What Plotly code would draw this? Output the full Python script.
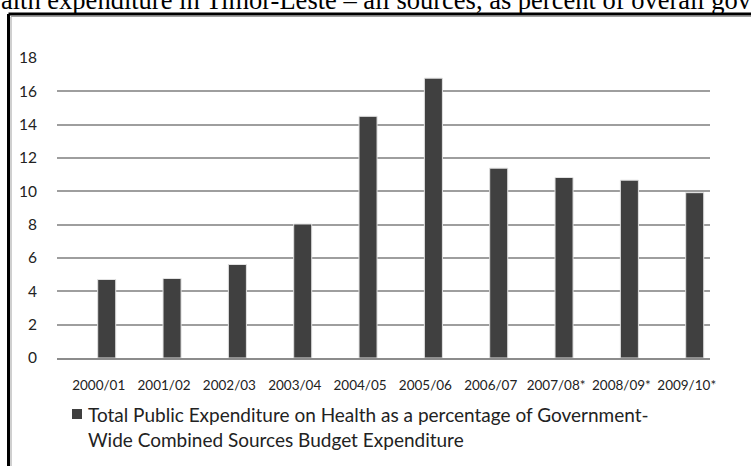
import plotly.graph_objects as go

categories = ["2000/01", "2001/02", "2002/03", "2003/04", "2004/05", "2005/06",
              "2006/07", "2007/08*", "2008/09*", "2009/10*"]
values = [4.71, 4.77, 5.61, 8.04, 14.50, 16.79, 11.39, 10.83, 10.67, 9.92]
y_ticks = [0, 2, 4, 6, 8, 10, 12, 14, 16, 18]
series_name = "Total Public Expenditure on Health as a percentage of Government-<br>Wide Combined Sources Budget Expenditure"
header_text = "alth expenditure in Timor-Leste \u2013 all sources, as percent of overall gov"

W, H = 751, 466
ML, MR, MT, MB = 57, 41, 58, 108
PW, PH = W - ML - MR, H - MT - MB


def px(x):
    return (x - ML) / PW


def py(y):
    return (H - MB - y) / PH


fig = go.Figure()
fig.add_trace(go.Bar(
    x=categories, y=values, name=series_name.replace("<br>", " "),
    marker=dict(color="#404040", line=dict(color="#e2e2e2", width=1)),
    width=0.276, showlegend=False,
))

fig.update_layout(
    width=W, height=H,
    margin=dict(l=ML, r=MR, t=MT, b=MB, pad=0),
    paper_bgcolor="white", plot_bgcolor="white",
    font=dict(family="Lato", color="#222222"),
    xaxis=dict(
        type="category", range=[-0.761, 9.234],
        showgrid=False, showline=True, linecolor="#8c8c8c", linewidth=2,
        ticks="outside", ticklen=14, tickcolor="rgba(0,0,0,0)",
        tickfont=dict(family="Lato", size=13.5, color="#222222"),
        ticklabelshift=-8, tickangle=0,
    ),
    yaxis=dict(
        range=[0, 18], tickvals=y_ticks, showgrid=True,
        gridcolor="#9e9e9e", gridwidth=1.5, zeroline=False, showline=False,
        ticks="outside", ticklen=16, tickcolor="rgba(0,0,0,0)",
        tickfont=dict(family="Lato", size=15.5, color="#222222"),
    ),
    bargap=0.7,
)

# header text (partially cut off at top of image)
fig.add_annotation(
    text=header_text, xref="paper", yref="paper",
    x=px(-1), y=py(17), xanchor="left", yanchor="bottom",
    showarrow=False, font=dict(family="Liberation Serif", size=26.5, color="black"),
)

# legend: square + text
fig.add_shape(type="rect", xref="paper", yref="paper",
              x0=px(72), x1=px(82), y0=py(419), y1=py(409),
              fillcolor="#404040", line=dict(width=0))
fig.add_annotation(
    text=series_name, xref="paper", yref="paper",
    x=px(86), y=py(401), xanchor="left", yanchor="top", align="left",
    showarrow=False, font=dict(family="Lato", size=19, color="#222222"),
)

# frame around chart (extends beyond right and bottom edge)
fig.add_shape(type="line", xref="paper", yref="paper",
              x0=px(8.5), x1=px(800), y0=py(14), y1=py(14),
              line=dict(color="black", width=3))
fig.add_shape(type="line", xref="paper", yref="paper",
              x0=px(8.5), x1=px(8.5), y0=py(14), y1=py(520),
              line=dict(color="black", width=3))
fig.add_shape(type="line", xref="paper", yref="paper",
              x0=px(11), x1=px(800), y0=py(16.5), y1=py(16.5),
              line=dict(color="#a0a0a0", width=1))
fig.add_shape(type="line", xref="paper", yref="paper",
              x0=px(11), x1=px(11), y0=py(16.5), y1=py(520),
              line=dict(color="#a0a0a0", width=1))

fig.write_html("out.html")
